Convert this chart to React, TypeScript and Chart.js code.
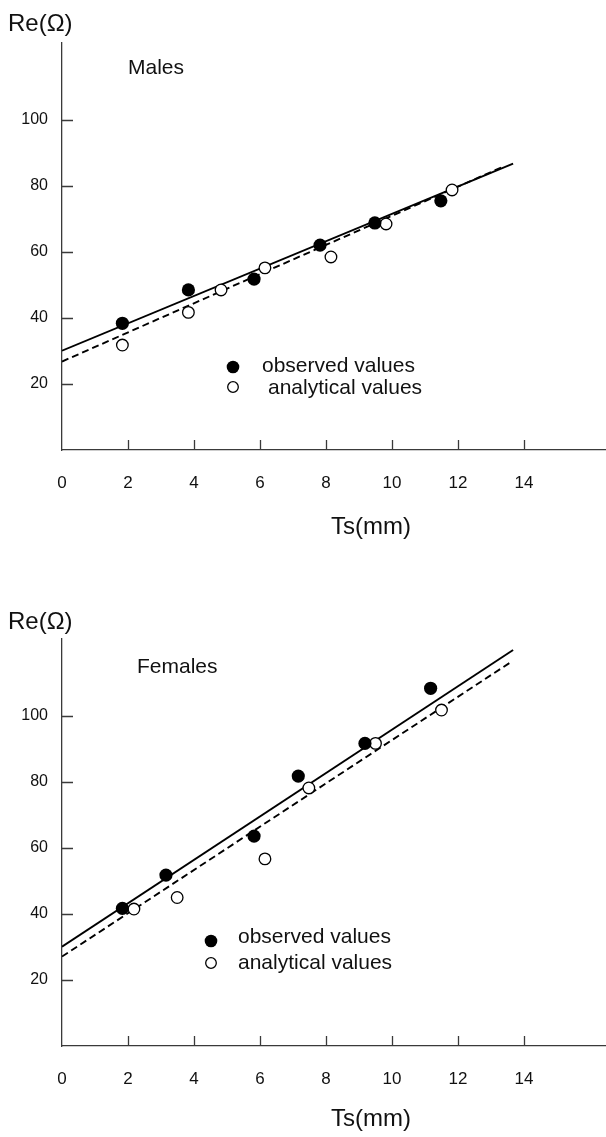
import React, { useEffect, useRef } from "react";
import { Chart, registerables } from "chart.js";

Chart.register(...registerables);

const FONT = '"Liberation Sans", Arial, Helvetica, sans-serif';
const INK = "#111";
const AXIS = "#3a3a3a";

// ---- data ----
const xTickValues = [0, 2, 4, 6, 8, 10, 12, 14];
const yTickValues = [20, 40, 60, 80, 100];

const maleObsX = [1.83, 3.83, 5.82, 7.82, 9.48, 11.48];
const maleObsY = [38.4, 48.5, 51.8, 62.1, 68.8, 75.5];
const maleAnaX = [1.83, 3.83, 4.82, 6.15, 8.15, 9.82, 11.82];
const maleAnaY = [31.8, 41.7, 48.5, 55.2, 58.5, 68.5, 78.8];
const maleObsFitX = [0, 13.67];
const maleObsFitY = [30.1, 86.8];
const maleAnaFitX = [0, 13.4];
const maleAnaFitY = [26.8, 86.0];

const femObsX = [1.83, 3.15, 5.82, 7.16, 9.18, 11.17];
const femObsY = [41.7, 51.8, 63.6, 81.8, 91.7, 108.4];
const femAnaX = [2.18, 3.49, 6.15, 7.48, 9.5, 11.5];
const femAnaY = [41.5, 45.0, 56.7, 78.2, 91.7, 101.8];
const femObsFitX = [0, 13.67];
const femObsFitY = [30.1, 120.0];
const femAnaFitX = [0, 13.58];
const femAnaFitY = [27.1, 116.2];

const legendLabels = ["observed values", "analytical values"];
const yTitle = "Re(Ω)";
const xTitle = "Ts(mm)";

const pts = (xs: number[], ys: number[]) => xs.map((x, i) => ({ x, y: ys[i] }));

interface Spec {
  height: number;
  group: string;
  groupX: number;
  groupY: number;
  yTitleY: number;
  xTitleY: number;
  legend: { mx: number; my1: number; my2: number; tx1: number; tx2: number; ty1: number; ty2: number };
  obsX: number[]; obsY: number[]; anaX: number[]; anaY: number[];
  ofX: number[]; ofY: number[]; afX: number[]; afY: number[];
}

function build(canvas: HTMLCanvasElement, s: Spec) {
  const AREA_TOP = 43;
  const AREA_BOTTOM = 450;
  const AREA_LEFT = 62;
  const overlay = {
    id: "overlay",
    afterDraw(chart: any) {
      const ctx = chart.ctx;
      const xs = chart.scales.x;
      const ys = chart.scales.y;
      const ca = chart.chartArea;
      ctx.save();
      ctx.strokeStyle = AXIS;
      ctx.lineWidth = 1.3;
      ctx.beginPath();
      xTickValues.forEach((v) => {
        if (v === 0) return;
        const px = Math.round(xs.getPixelForValue(v)) + 0.5;
        ctx.moveTo(px, ca.bottom);
        ctx.lineTo(px, ca.bottom - 10);
      });
      yTickValues.forEach((v) => {
        const py = Math.round(ys.getPixelForValue(v)) + 0.5;
        ctx.moveTo(ca.left, py);
        ctx.lineTo(ca.left + 11, py);
      });
      ctx.stroke();

      ctx.fillStyle = INK;
      ctx.textBaseline = "middle";
      ctx.textAlign = "left";
      ctx.font = `24px ${FONT}`;
      ctx.fillText(yTitle, 8, s.yTitleY);
      ctx.textAlign = "center";
      ctx.fillText(xTitle, 371, s.xTitleY);
      ctx.textAlign = "left";
      ctx.font = `21px ${FONT}`;
      ctx.fillText(s.group, s.groupX, s.groupY);
      const L = s.legend;
      ctx.fillText(legendLabels[0], L.tx1, L.ty1);
      ctx.fillText(legendLabels[1], L.tx2, L.ty2);
      ctx.beginPath();
      ctx.arc(L.mx, L.my1, 6.3, 0, Math.PI * 2);
      ctx.fillStyle = "#000";
      ctx.fill();
      ctx.beginPath();
      ctx.arc(L.mx, L.my2, 5.3, 0, Math.PI * 2);
      ctx.fillStyle = "#fff";
      ctx.fill();
      ctx.lineWidth = 1.3;
      ctx.strokeStyle = "#000";
      ctx.stroke();
      ctx.restore();
    },
  };

  return new Chart(canvas, {
    type: "scatter",
    data: {
      datasets: [
        {
          label: legendLabels[0],
          data: pts(s.obsX, s.obsY),
          pointRadius: 6.6,
          pointBackgroundColor: "#000",
          pointBorderColor: "#000",
          pointBorderWidth: 0,
          showLine: false,
        },
        {
          label: legendLabels[1],
          data: pts(s.anaX, s.anaY),
          pointRadius: 5.8,
          pointBackgroundColor: "#fff",
          pointBorderColor: "#000",
          pointBorderWidth: 1.3,
          showLine: false,
        },
        {
          label: "fit observed",
          data: pts(s.ofX, s.ofY),
          showLine: true,
          pointRadius: 0,
          borderColor: "#000",
          borderWidth: 1.9,
        },
        {
          label: "fit analytical",
          data: pts(s.afX, s.afY),
          showLine: true,
          pointRadius: 0,
          borderColor: "#000",
          borderWidth: 1.9,
          borderDash: [7, 4],
        },
      ],
    } as any,
    options: {
      animation: false,
      responsive: false,
      devicePixelRatio: 1,
      layout: { autoPadding: false, padding: { top: AREA_TOP, left: 0, right: 0, bottom: 0 } },
      plugins: { legend: { display: false }, tooltip: { enabled: false } },
      scales: {
        x: {
          type: "linear",
          min: 0,
          max: (606 - AREA_LEFT) / 33,
          afterFit: (sc: any) => {
            sc.height = s.height - AREA_BOTTOM;
            sc.paddingLeft = 0;
            sc.paddingRight = 0;
          },
          grid: { display: false, drawTicks: false },
          border: { display: true, color: AXIS, width: 1.3 },
          ticks: {
            stepSize: 2,
            autoSkip: false,
            maxRotation: 0,
            padding: 23,
            color: INK,
            font: { family: FONT, size: 17 },
            callback: (v: any) => (xTickValues.includes(Number(v)) ? String(v) : ""),
          },
        },
        y: {
          type: "linear",
          min: 0,
          max: (AREA_BOTTOM - AREA_TOP) / 3.3,
          afterFit: (sc: any) => {
            sc.width = AREA_LEFT;
            sc.paddingTop = 0;
            sc.paddingBottom = 0;
          },
          grid: { display: false, drawTicks: false },
          border: { display: true, color: AXIS, width: 1.3 },
          ticks: {
            stepSize: 20,
            autoSkip: false,
            padding: 14,
            color: INK,
            font: { family: FONT, size: 16 },
            callback: (v: any) => (yTickValues.includes(Number(v)) ? String(v) : ""),
          },
        },
      },
    } as any,
    plugins: [overlay],
  });
}

export default function App() {
  const topRef = useRef<HTMLCanvasElement>(null);
  const botRef = useRef<HTMLCanvasElement>(null);
  useEffect(() => {
    document.body.style.margin = "0";
    const c1 = build(topRef.current!, {
      height: 596,
      group: "Males",
      groupX: 128,
      groupY: 68,
      yTitleY: 24,
      xTitleY: 527,
      legend: { mx: 233, my1: 367, my2: 387, tx1: 262, tx2: 268, ty1: 366, ty2: 388 },
      obsX: maleObsX, obsY: maleObsY, anaX: maleAnaX, anaY: maleAnaY,
      ofX: maleObsFitX, ofY: maleObsFitY, afX: maleAnaFitX, afY: maleAnaFitY,
    });
    const c2 = build(botRef.current!, {
      height: 541,
      group: "Females",
      groupX: 137,
      groupY: 71,
      yTitleY: 26,
      xTitleY: 523,
      legend: { mx: 211, my1: 345, my2: 367, tx1: 238, tx2: 238, ty1: 341, ty2: 367 },
      obsX: femObsX, obsY: femObsY, anaX: femAnaX, anaY: femAnaY,
      ofX: femObsFitX, ofY: femObsFitY, afX: femAnaFitX, afY: femAnaFitY,
    });
    return () => {
      c1.destroy();
      c2.destroy();
    };
  }, []);
  return (
    <div style={{ width: 606 }}>
      <canvas ref={topRef} width={606} height={596} style={{ display: "block" }} />
      <canvas ref={botRef} width={606} height={541} style={{ display: "block" }} />
    </div>
  );
}
